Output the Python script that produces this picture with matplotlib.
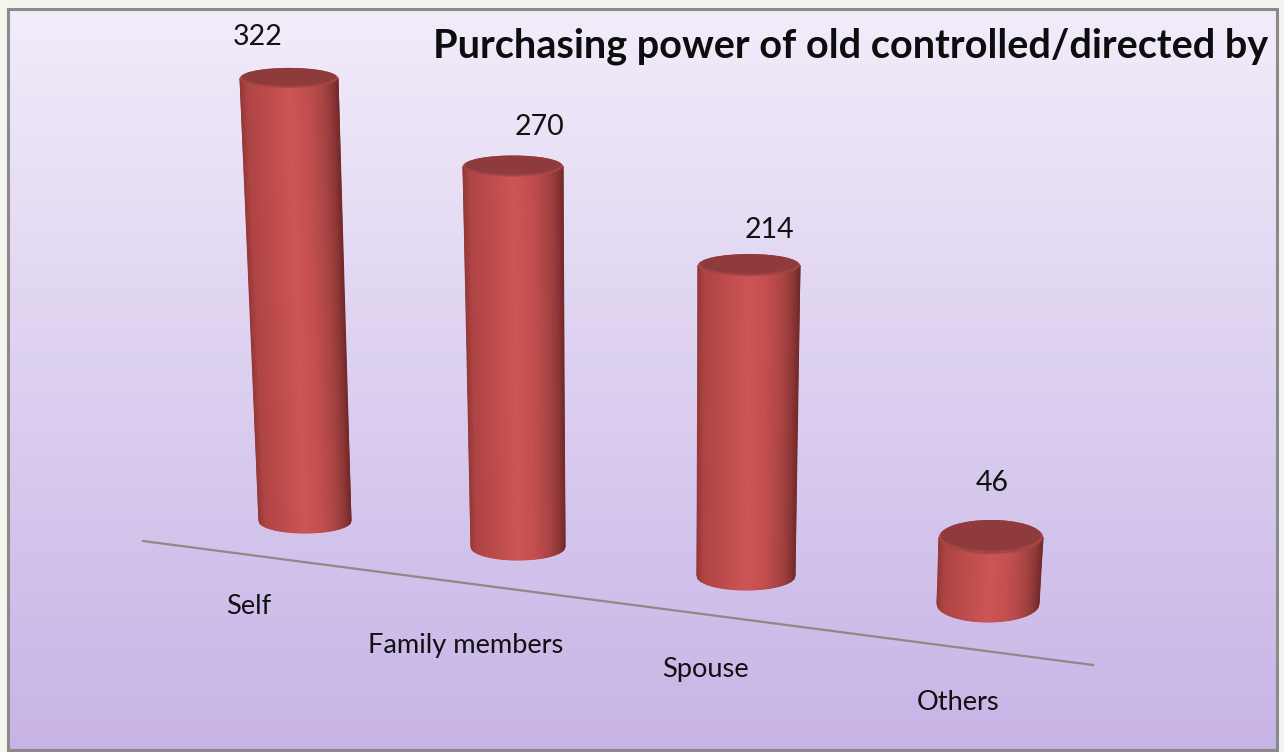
import numpy as np
import matplotlib
matplotlib.use('Agg')
import matplotlib.pyplot as plt
from matplotlib.colors import LinearSegmentedColormap
from matplotlib.patches import Ellipse, Rectangle

plt.rcParams['font.family'] = ['Lato', 'DejaVu Sans']

categories = ['Self', 'Family members', 'Spouse', 'Others']
values = [322, 270, 214, 46]
title = 'Purchasing power of old controlled/directed by'

W, H = 1284, 752

# perspective layout, one entry per cylinder (pixels)
base_x = [305, 518, 746, 988]
base_y = [521, 547, 576, 604]
px_per_unit = [1.376, 1.411, 1.453, 1.457]
top_shift = [-16, -5, 3, 3]
rx_bottom = [46, 47, 49, 51]
rx_top = [49, 50, 51, 52]
ry_bottom = [12, 13, 14, 18]
ry_top = [10, 10.5, 11, 17]
value_pos = [(258, 37), (539, 127), (769, 230), (992, 483)]
cat_pos = [(249, 606), (466, 646), (705, 670), (958, 702)]

body_cm = LinearSegmentedColormap.from_list('body', [
    (0.0, '#963838'), (0.06, '#ae4444'), (0.3, '#c04d4d'), (0.5, '#cd5555'),
    (0.68, '#c44f4f'), (0.85, '#a94444'), (0.95, '#8c3636'), (1.0, '#732a2a')])
bg_cm = LinearSegmentedColormap.from_list('bg', ['#f2ecfa', '#c7b4e6'])


def draw_cylinder(ax, x0, y0, value, scale, shift, r0, r1, ry0, ry1):
    y1 = y0 - value * scale
    x1 = x0 + shift
    u = np.linspace(0, 1, 80)
    arc = np.sqrt(1 - (2 * u - 1) ** 2)
    # front half of both ellipses, joined by a quad mesh
    xb = x0 - r0 + 2 * r0 * u
    yb = y0 + ry0 * arc
    xt = x1 - r1 + 2 * r1 * u
    yt = y1 + ry1 * arc
    t = np.linspace(0, 1, 2)[:, None]
    xx = xt[None, :] * (1 - t) + xb[None, :] * t
    yy = yt[None, :] * (1 - t) + yb[None, :] * t
    cc = np.tile(u, (2, 1))
    ax.pcolormesh(xx, yy, cc, cmap=body_cm, shading='gouraud', zorder=3)
    # top cap with a thin lighter rim at the front
    ax.add_patch(Ellipse((x1, y1), 2 * r1, 2 * ry1, fc='#a54444', ec='none', zorder=4))
    ax.add_patch(Ellipse((x1, y1 - 0.1 * ry1), 2 * r1 * 0.96, 2 * ry1 * 0.9, fc='#8f3b3b', ec='none', zorder=5))


fig = plt.figure(figsize=(W / 100, H / 100), dpi=100, facecolor='#f5f5ef')
ax = fig.add_axes([0, 0, 1, 1])
ax.set_xlim(0, W)
ax.set_ylim(H, 0)
ax.axis('off')

# panel gradient + frame
grad = np.linspace(0, 1, 256)[:, None]
ax.imshow(grad, cmap=bg_cm, extent=(8, 1277, 750, 9), aspect='auto', zorder=1)
ax.set_xlim(0, W)
ax.set_ylim(H, 0)
ax.add_patch(Rectangle((8, 9), 1269, 741, fc='none', ec='#8a8a8a', lw=2.2, zorder=2))

# category axis
ax.plot([143, 1093], [541, 665], color='#8b8b86', lw=1.6, zorder=2)

for i, v in enumerate(values):
    draw_cylinder(ax, base_x[i], base_y[i], v, px_per_unit[i], top_shift[i],
                  rx_bottom[i], rx_top[i], ry_bottom[i], ry_top[i])
    ax.text(value_pos[i][0], value_pos[i][1], str(v), fontsize=20.5, color='#111111',
            ha='center', va='center', zorder=6)
    ax.text(cat_pos[i][0], cat_pos[i][1], categories[i], fontsize=19.6, color='#111111',
            ha='center', va='center', zorder=6)

ax.text(1268, 46, title, fontsize=28.5, fontweight='bold', color='#0d0d0d',
        ha='right', va='center', zorder=6)

fig.savefig('out.png', dpi=100, facecolor=fig.get_facecolor())
